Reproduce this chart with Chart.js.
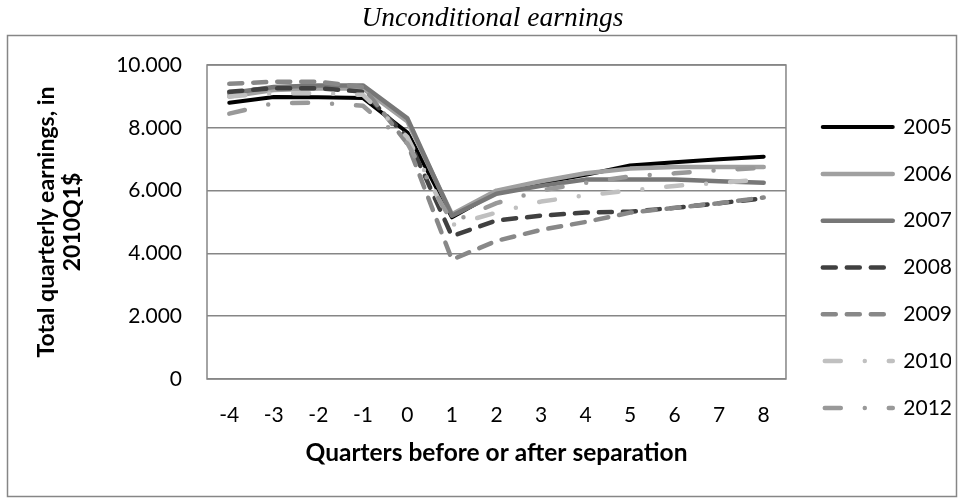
<!DOCTYPE html>
<html><head><meta charset="utf-8">
<style>html,body{margin:0;padding:0;background:#fff;} canvas{display:block;}</style>
<script src="https://cdn.jsdelivr.net/npm/chart.js@4.4.1/dist/chart.umd.min.js"></script>
</head><body>
<canvas id="c" width="965" height="500"></canvas>
<script>
const quarters = ['-4','-3','-2','-1','0','1','2','3','4','5','6','7','8'];
const years = ['2005','2006','2007','2008','2009','2010','2012'];
const s2005 = [8800, 8980, 8970, 8950, 7850, 5150, 5950, 6250, 6500, 6800, 6900, 7000, 7080];
const s2006 = [9000, 9200, 9250, 9250, 8200, 5250, 6000, 6300, 6550, 6700, 6750, 6750, 6750];
const s2007 = [9100, 9300, 9350, 9350, 8300, 5200, 5900, 6150, 6350, 6350, 6350, 6300, 6250];
const s2008 = [9150, 9260, 9260, 9150, 7700, 4550, 5050, 5200, 5300, 5330, 5450, 5600, 5750];
const s2009 = [9400, 9470, 9470, 9300, 7500, 3800, 4400, 4750, 5000, 5300, 5450, 5600, 5780];
const s2010 = [9000, 9100, 9100, 9050, 7700, 4900, 5300, 5650, 5850, 6000, 6150, 6250, 6350];
const s2012 = [8450, 8780, 8800, 8700, 7500, 5000, 5600, 6000, 6250, 6450, 6550, 6650, 6730];
const yTickValues = [0, 2000, 4000, 6000, 8000, 10000];
const yTickLabels = ['0', '2.000', '4.000', '6.000', '8.000', '10.000'];
const chartTitle = 'Unconditional earnings';
const yTitle = ['Total quarterly earnings, in', '2010Q1$'];
const xTitle = 'Quarters before or after separation';

const seriesValues = [s2005, s2006, s2007, s2008, s2009, s2010, s2012];
const colors = ['#000000', '#a0a0a0', '#777777', '#404040', '#888888', '#c0c0c0', '#999999'];
const dashes = [[], [], [], [13, 11], [13, 11], [16, 24, 0, 24], [16, 24, 0, 24]];
const legendDashOffset = [0, 0, 0, 0, 0, -2, -2];
const widths = [4, 4.5, 4.5, 4.5, 4.5, 4.5, 4.5];

const datasets = years.map((y, i) => ({
  label: y,
  data: seriesValues[i],
  borderColor: colors[i],
  backgroundColor: colors[i],
  borderWidth: widths[i],
  borderDash: dashes[i],
  borderCapStyle: 'round',
  borderJoinStyle: 'round',
  pointRadius: 0,
  pointHoverRadius: 0,
  tension: 0,
  fill: false,
  order: years.length - i
}));

const framePlugin = {
  id: 'frames',
  afterLayout(chart) {
    const lg = chart.legend;
    if (lg) {
      lg.top = 35;
      lg.left = chart.chartArea.right + 11;
    }
    const tb = chart.titleBlock;
    if (tb) {
      tb.left += 7;
      tb.right += 7;
    }
  },
  beforeDraw(chart) {
    const ctx = chart.ctx;
    ctx.save();
    ctx.fillStyle = '#fff';
    ctx.fillRect(0, 0, chart.width, chart.height);
    ctx.strokeStyle = '#868686';
    ctx.lineWidth = 1.5;
    ctx.strokeRect(7.5, 35.5, 949, 461);
    ctx.restore();
  },
  beforeDatasetsDraw(chart) {
    const a = chart.chartArea;
    const ctx = chart.ctx;
    ctx.save();
    ctx.strokeStyle = '#868686';
    ctx.lineWidth = 1.5;
    ctx.strokeRect(a.left, a.top, a.right - a.left, a.bottom - a.top);
    ctx.restore();
  }
};

new Chart(document.getElementById('c'), {
  type: 'line',
  data: { labels: quarters, datasets },
  plugins: [framePlugin],
  options: {
    responsive: false,
    animation: false,
    devicePixelRatio: 1,
    layout: { padding: { left: 20, right: 14, top: 0, bottom: 0 } },
    plugins: {
      title: {
        display: true, text: chartTitle, color: '#000',
        font: { family: 'Liberation Serif', size: 27.5, style: 'italic', weight: 'normal', lineHeight: 1.2 },
        padding: { top: 2, bottom: 30 }
      },
      legend: {
        display: true, position: 'right', align: 'center',
        labels: {
          color: '#000',
          font: { family: 'Lato', size: 21 },
          usePointStyle: true,
          pointStyle: 'line',
          pointStyleWidth: 70,
          padding: 25.8,
          sort: (a, b) => a.datasetIndex - b.datasetIndex,
          generateLabels: (chart) => {
            const items = Chart.defaults.plugins.legend.labels.generateLabels(chart);
            items.forEach(it => {
              const i = it.datasetIndex;
              it.pointStyle = 'line';
              it.lineDash = dashes[i];
              it.lineDashOffset = legendDashOffset[i];
              it.lineWidth = widths[i];
              it.lineCap = 'round';
              it.strokeStyle = colors[i];
              it.fillStyle = colors[i];
            });
            return items;
          }
        }
      },
      tooltip: { enabled: false }
    },
    scales: {
      x: {
        type: 'category', offset: true,
        grid: { display: false },
        border: { display: false },
        ticks: { color: '#000', font: { family: 'Lato', size: 21 }, padding: 16, maxRotation: 0, autoSkip: false },
        title: { display: true, text: xTitle, color: '#000', font: { family: 'Lato', size: 24.5, weight: 'bold', lineHeight: 1.2 }, padding: { top: 0, bottom: 32 } },
        afterFit(s) { s.height = 121; }
      },
      y: {
        min: 0, max: 10000,
        ticks: {
          stepSize: 2000, color: '#000', font: { family: 'Lato', size: 21 }, padding: 25,
          callback: (v) => yTickLabels[yTickValues.indexOf(v)]
        },
        grid: { color: '#868686', lineWidth: 1.5, drawTicks: false },
        border: { display: false },
        title: { display: true, text: yTitle, color: '#000', font: { family: 'Lato', size: 23, weight: 'bold', lineHeight: 1.1 }, padding: { top: 14.3, bottom: 0 } },
        afterFit(s) { s.width = 187; }
      }
    }
  }
});
</script>
</body></html>
